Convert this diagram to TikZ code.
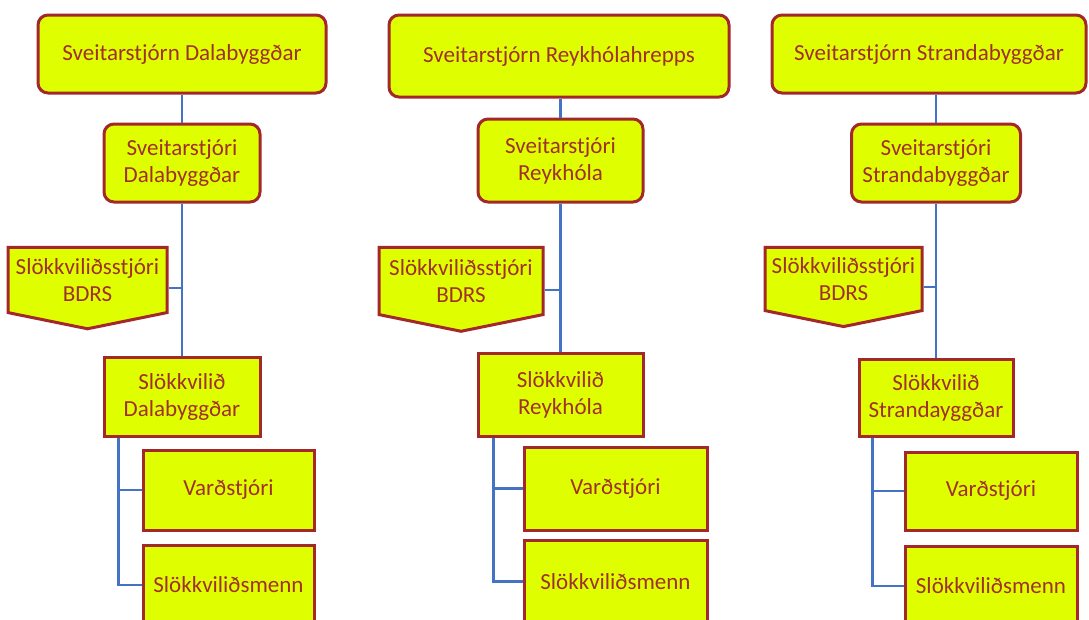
\documentclass[tikz,border=0pt]{standalone}
\usepackage{fontspec}
\setmainfont{Carlito}
\usetikzlibrary{shapes.symbols}
\definecolor{boxfill}{HTML}{DFFF00}
\definecolor{boxline}{HTML}{A3282A}
\definecolor{boxtext}{HTML}{A0302A}
\definecolor{linkblue}{HTML}{4472C4}
\begin{document}
\begin{tikzpicture}[x=1pt,y=-1pt,
  box/.style={draw=boxline,fill=boxfill,line width=3pt,text=boxtext,align=center,
    font=\fontsize{23}{27}\selectfont,inner sep=2pt},
  roundbox/.style={box,rounded corners=10pt},
  pent/.style={box,signal,signal to=south,signal pointer angle=157,inner sep=1pt},
  link/.style={draw=linkblue,line width=2.8pt}]
\useasboundingbox (0,0) rectangle (1089,619);
% Dalabyggd
\node[roundbox,minimum width=288,minimum height=78] (rL) at (182,54) {Sveitarstjórn Dalabyggðar};
\node[roundbox,minimum width=156,minimum height=78] (sL) at (182,163) {Sveitarstjóri\\Dalabyggðar};
\node[box,minimum width=156,minimum height=79] (fL) at (182,396.5) {Slökkvilið\\Dalabyggðar};
\node[box,minimum width=171,minimum height=80] (vL) at (228.5,490) {Varðstjóri};
\node[box,minimum width=171,minimum height=80] (mL) at (228.5,585) {Slökkviliðsmenn};
\draw[link] (rL.south) -- (sL.north);
\draw[link] (sL.south) -- (fL.north);
\node[pent,minimum width=159,minimum height=80] (pL) at (87.5,280) {Slökkviliðsstjóri\\BDRS};
\coordinate (jL) at ([yshift=-8pt]pL.east);
\draw[link] (jL) -- (jL -| sL.south);
\draw[link] ([xshift=16pt]fL.south west) |- (vL.west);
\draw[link] ([xshift=16pt]fL.south west) |- (mL.west);
% Reykholar
\node[roundbox,minimum width=340,minimum height=82] (rM) at (559,56) {Sveitarstjórn Reykhólahrepps};
\node[roundbox,minimum width=165,minimum height=83] (sM) at (560.5,160.5) {Sveitarstjóri\\Reykhóla};
\node[box,minimum width=165,minimum height=83] (fM) at (560.5,394.5) {Slökkvilið\\Reykhóla};
\node[box,minimum width=183,minimum height=83] (vM) at (615.5,488.5) {Varðstjóri};
\node[box,minimum width=183,minimum height=83] (mM) at (615.5,581.5) {Slökkviliðsmenn};
\draw[link] (sM.north) -- (sM.north |- rM.south);
\draw[link] (sM.south) -- (fM.north);
\node[pent,minimum width=164,minimum height=82] (pM) at (461,281) {Slökkviliðsstjóri\\BDRS};
\coordinate (jM) at ([yshift=-9pt]pM.east);
\draw[link] (jM) -- (jM -| sM.south);
\draw[link] ([xshift=17pt]fM.south west) |- (vM.west);
\draw[link] ([xshift=17pt]fM.south west) |- (mM.west);
% Strandabyggd
\node[roundbox,minimum width=314,minimum height=78] (rR) at (929,54) {Sveitarstjórn Strandabyggðar};
\node[roundbox,minimum width=169,minimum height=78] (sR) at (936,163) {Sveitarstjóri\\Strandabyggðar};
\node[box,minimum width=154,minimum height=77] (fR) at (936,397.5) {Slökkvilið\\Strandayggðar};
\node[box,minimum width=172,minimum height=78] (vR) at (991,491) {Varðstjóri};
\node[box,minimum width=172,minimum height=80] (mR) at (991,586) {Slökkviliðsmenn};
\draw[link] (sR.north) -- (sR.north |- rR.south);
\draw[link] (sR.south) -- (fR.north);
\node[pent,minimum width=157,minimum height=78] (pR) at (843.5,279) {Slökkviliðsstjóri\\BDRS};
\coordinate (jR) at ([yshift=-8pt]pR.east);
\draw[link] (jR) -- (jR -| sR.south);
\draw[link] ([xshift=15pt]fR.south west) |- (vR.west);
\draw[link] ([xshift=15pt]fR.south west) |- (mR.west);
\end{tikzpicture}
\end{document}
